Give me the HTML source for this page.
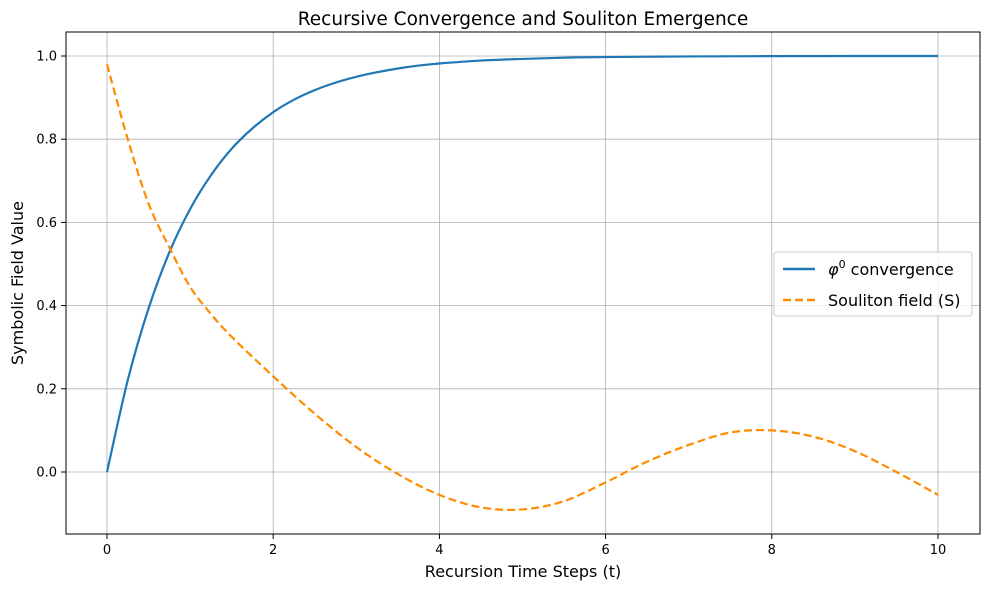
<!DOCTYPE html>
<html><head><meta charset="utf-8"><style>
body{margin:0;background:#fff;}
svg text{font-family:"DejaVu Sans","Liberation Sans",sans-serif;fill:#000;}
</style></head><body>
<svg width="990" height="590" viewBox="0 0 990 590">
<rect width="990" height="590" fill="#fff"/>
<g id="grid"></g><g id="ticks"></g><g id="series"></g>
<rect x="66" y="32" width="914" height="502" fill="none" stroke="#000" stroke-width="1"/>
<text x="523" y="25" text-anchor="middle" font-size="18.5">Recursive Convergence and Souliton Emergence</text>
<text x="523" y="577" text-anchor="middle" font-size="16">Recursion Time Steps (t)</text>
<text transform="translate(23,283) rotate(-90)" text-anchor="middle" font-size="16">Symbolic Field Value</text>
<g>
<rect x="774" y="252" width="198" height="64" rx="3" fill="#fff" fill-opacity="0.8" stroke="#ccc"/>
<line x1="783" y1="269" x2="815" y2="269" stroke="#1f77b4" stroke-width="2.5"/>
<text x="828" y="275" font-size="16"><tspan font-style="italic">φ</tspan><tspan font-size="11" dy="-7">0</tspan><tspan dy="7"> convergence</tspan></text>
<line x1="783" y1="300" x2="815" y2="300" stroke="#ff8c00" stroke-width="2.5" stroke-dasharray="8,4"/>
<text x="828" y="306" font-size="16">Souliton field (S)</text>
</g>
</svg>
<script>
const xTicks=[0,2,4,6,8,10];
const yTicks=[0.0,0.2,0.4,0.6,0.8,1.0];
const phiT=[0,0.25,0.5,0.75,1,1.25,1.5,1.75,2,2.25,2.5,2.75,3,3.25,3.5,3.75,4,4.5,5,5.5,6,7,8,9,10];
const phiV=[0,0.221,0.393,0.528,0.632,0.713,0.777,0.826,0.865,0.895,0.918,0.936,0.950,0.961,0.970,0.977,0.982,0.989,0.993,0.996,0.9975,0.999,0.9997,1.0,1.0];
const sT=[0,0.25,0.5,0.75,1,1.25,1.5,2,2.5,3,3.5,4,4.5,5,5.5,6,6.5,7,7.5,8,8.5,9,9.5,10];
const sV=[0.98,0.80,0.645,0.54,0.445,0.38,0.325,0.23,0.14,0.06,-0.005,-0.055,-0.085,-0.09,-0.07,-0.025,0.025,0.065,0.095,0.10,0.085,0.05,0.0,-0.055];
const X=v=>107+v*83.1, Y=v=>472-v*416;
const NS="http://www.w3.org/2000/svg";
const mk=(p,t,a)=>{const e=document.createElementNS(NS,t);for(const k in a)e.setAttribute(k,a[k]);document.getElementById(p).appendChild(e);return e;};
xTicks.forEach(t=>{
 const g=mk('grid','line',{x1:X(t),x2:X(t),y1:32,y2:534,stroke:'#b0b0b0','stroke-width':0.8});
 
 
 mk('ticks','line',{x1:X(t),x2:X(t),y1:534,y2:539,stroke:'#000'});
 const l=mk('ticks','text',{x:X(t),y:554,'text-anchor':'middle','font-size':13});
 l.textContent=t;
 
 
});
yTicks.forEach(t=>{
 const g=mk('grid','line',{x1:66,x2:980,y1:Y(t),y2:Y(t),stroke:'#b0b0b0','stroke-width':0.8});
 
 
 mk('ticks','line',{x1:61,x2:66,y1:Y(t),y2:Y(t),stroke:'#000'});
 const l=mk('ticks','text',{x:57,y:Y(t)+4.5,'text-anchor':'end','font-size':13});
 l.textContent=t.toFixed(1);
 
 
});
function path(ts,vs){
 const p=ts.map((t,i)=>[X(t),Y(vs[i])]);
 let d='M'+p[0][0]+','+p[0][1];
 for(let i=0;i<p.length-1;i++){
  const p0=p[Math.max(0,i-1)],p1=p[i],p2=p[i+1],p3=p[Math.min(p.length-1,i+2)];
  d+=' C'+(p1[0]+(p2[0]-p0[0])/6)+','+(p1[1]+(p2[1]-p0[1])/6)+' '+(p2[0]-(p3[0]-p1[0])/6)+','+(p2[1]-(p3[1]-p1[1])/6)+' '+p2[0]+','+p2[1];
 }
 return d;
}
const a=mk('series','path',{d:path(phiT,phiV),fill:'none',stroke:'#1f77b4','stroke-width':2.2});


const b=mk('series','path',{d:path(sT,sV),fill:'none',stroke:'#ff8c00','stroke-width':2.2,'stroke-dasharray':'8,4'});


</script>
</body></html>
